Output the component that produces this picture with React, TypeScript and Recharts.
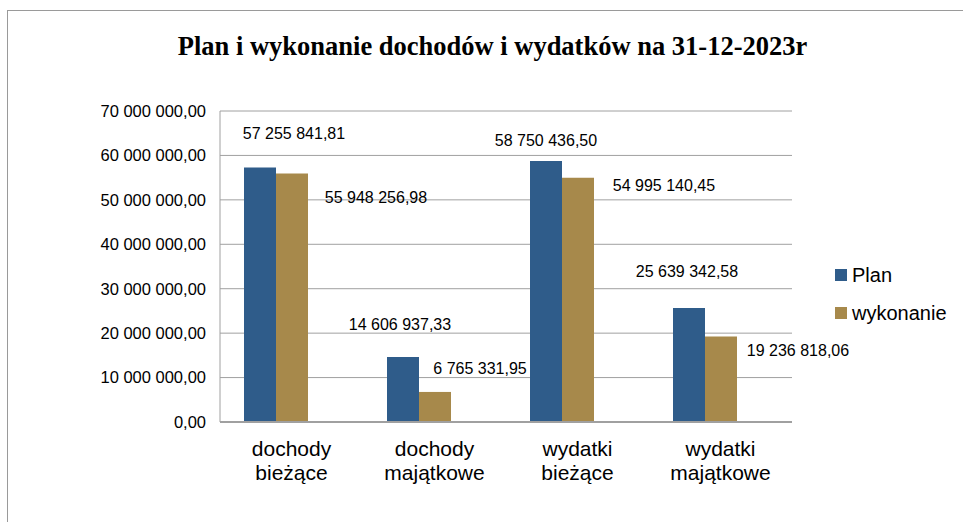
import { Bar, BarChart, CartesianGrid, LabelList, XAxis, YAxis } from "recharts";

const categories = ["dochody bieżące", "dochody majątkowe", "wydatki bieżące", "wydatki majątkowe"];
const plan = [57255841.81, 14606937.33, 58750436.5, 25639342.58];
const wykonanie = [55948256.98, 6765331.95, 54995140.45, 19236818.06];
const yTicks = [0, 10000000, 20000000, 30000000, 40000000, 50000000, 60000000, 70000000];

// label nudges (dx, dy from bar top) as placed by hand in the original
const planLabelPos = [[34, -34], [-3, -33], [0, -20], [-2, -37]];
const wykLabelPos = [[84, 24], [45, -23], [86, 8], [77, 14]];

const PLAN_COLOR = "#2f5c8a";
const WYK_COLOR = "#a7894b";
const FONT = "'Liberation Sans', Arial, sans-serif";

const data = categories.map((name, i) => ({
  name,
  plan: plan[i],
  wykonanie: wykonanie[i],
  blank: null,
}));

function fmt(v: number) {
  const [int, dec] = v.toFixed(2).split(".");
  return int.replace(/\B(?=(\d{3})+(?!\d))/g, " ") + "," + dec;
}

function makeLabel(pos: number[][], values: number[]) {
  return (props: any) => {
    const { x, y, width, index } = props;
    const [dx, dy] = pos[index];
    return (
      <text
        x={x + width / 2 + dx}
        y={y + dy}
        textAnchor="middle"
        dominantBaseline="central"
        fontSize={16}
        fontFamily={FONT}
        fill="#000"
      >
        {fmt(values[index])}
      </text>
    );
  };
}

function CategoryTick(props: any) {
  const { x, y, payload } = props;
  const words = String(payload.value).split(" ");
  return (
    <text x={x} y={y} textAnchor="middle" fontSize={21} fontFamily={FONT} fill="#000">
      {words.map((w, i) => (
        <tspan key={w} x={x} dy={i === 0 ? 26 : 24}>
          {w}
        </tspan>
      ))}
    </text>
  );
}

function LegendBox() {
  const items = [
    { label: "Plan", color: PLAN_COLOR },
    { label: "wykonanie", color: WYK_COLOR },
  ];
  return (
    <div style={{ position: "absolute", left: 835, top: 256, fontFamily: FONT, fontSize: 20, color: "#000" }}>
      {items.map((it) => (
        <div key={it.label} style={{ display: "flex", alignItems: "center", height: 38 }}>
          <span style={{ width: 12, height: 12, background: it.color, marginRight: 5 }} />
          <span>{it.label}</span>
        </div>
      ))}
    </div>
  );
}

export default function App() {
  return (
    <div style={{ position: "absolute", left: 0, top: 0, width: 963, height: 522, overflow: "hidden", background: "#fff" }}>
      <div
        style={{
          position: "absolute",
          left: 7,
          top: 10,
          width: 1000,
          height: 600,
          border: "1px solid #9a9a9a",
        }}
      />
      <div
        style={{
          position: "absolute",
          left: 0,
          top: 31,
          width: 985,
          textAlign: "center",
          fontFamily: "'Liberation Serif', 'Times New Roman', serif",
          fontWeight: "bold",
          fontSize: 26.5,
          color: "#000",
        }}
      >
        Plan i wykonanie dochodów i wydatków na 31-12-2023r
      </div>
      <div style={{ position: "absolute", left: 0, top: 0 }}>
        <BarChart
          width={963}
          height={522}
          data={data}
          margin={{ top: 111, right: 171, left: 0, bottom: 40 }}
          barGap={0}
          barSize={32}
        >
          <CartesianGrid vertical={false} stroke="#a0a0a0" strokeWidth={1} />
          <XAxis
            dataKey="name"
            height={60}
            tickLine={false}
            axisLine={{ stroke: "#a0a0a0", strokeWidth: 2 }}
            tick={<CategoryTick />}
            interval={0}
          />
          <YAxis
            width={220}
            domain={[0, 70000000]}
            ticks={yTicks}
            tickLine={false}
            tickSize={6}
            tickMargin={8}
            axisLine={{ stroke: "#a0a0a0" }}
            tickFormatter={fmt}
            tick={{ fontSize: 16.5, fontFamily: FONT, fill: "#000" }}
          />
          <Bar dataKey="plan" fill={PLAN_COLOR} isAnimationActive={false}>
            <LabelList dataKey="plan" content={makeLabel(planLabelPos, plan)} />
          </Bar>
          <Bar dataKey="wykonanie" fill={WYK_COLOR} isAnimationActive={false}>
            <LabelList dataKey="wykonanie" content={makeLabel(wykLabelPos, wykonanie)} />
          </Bar>
          <Bar dataKey="blank" fill="none" legendType="none" isAnimationActive={false} />
        </BarChart>
      </div>
      <LegendBox />
    </div>
  );
}
